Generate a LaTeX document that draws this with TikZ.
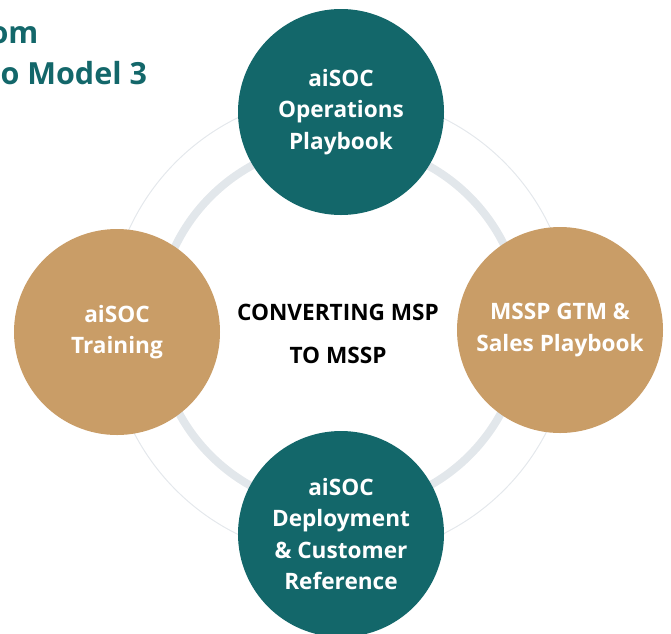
\documentclass[tikz,border=0pt]{standalone}
\usepackage{fontspec}
\setmainfont{Open Sans}
\usetikzlibrary{positioning}
\definecolor{socteal}{HTML}{13676A}
\definecolor{soctan}{HTML}{C99D67}
\definecolor{ringgray}{HTML}{E2E7EB}
\definecolor{ringline}{HTML}{E4E8EC}

\tikzset{
	pillar/.style={circle, minimum size=206pt, inner sep=0pt, text=white, align=center,
		font=\fontsize{22.6}{31.5}\selectfont\bfseries},
	tealpillar/.style={pillar, fill=socteal},
	tanpillar/.style={pillar, fill=soctan},
}

\begin{document}
\begin{tikzpicture}[x=1pt, y=-1pt]
		\useasboundingbox (0,0) rectangle (671,633);
		\coordinate (hub) at (340,326);
		\draw[ringline, line width=1pt] (hub) circle (232pt);
		\draw[ringgray, line width=8pt] (hub) circle (183pt);
		\node[anchor=base west, align=left, text=socteal, font=\fontsize{30.5}{41}\selectfont\bfseries] (heading) at (-3,84) {\hspace*{-11pt}om\\o Model 3};
		\node[align=center, font=\fontsize{22.6}{43}\selectfont\bfseries] (core) at (338,334) {CONVERTING MSP\\TO MSSP};
		\node[tealpillar] (ops) at (341,112) {aiSOC\\Operations\\Playbook};
		\node[tanpillar] (gtm) at (560,330) {MSSP GTM \&\\Sales Playbook};
		\node[tealpillar] (deploy) at (341,534) {aiSOC\\Deployment\\\& Customer\\Reference};
		\node[tanpillar] (training) at (117,332) {aiSOC\\Training};
\end{tikzpicture}
\end{document}
